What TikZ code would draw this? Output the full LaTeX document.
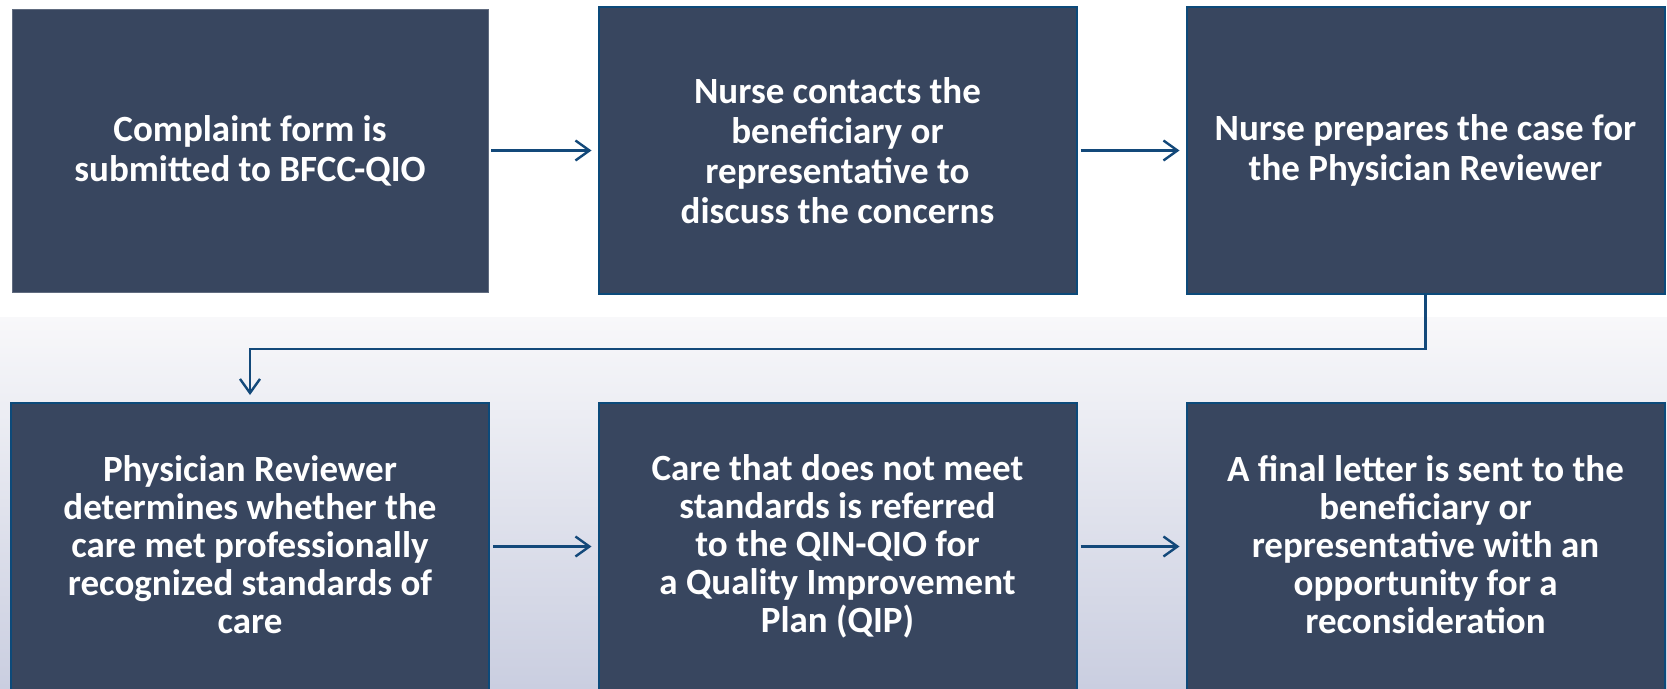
\documentclass[tikz,border=0pt]{standalone}
\usepackage{fontspec}
\setmainfont{Carlito}
\usetikzlibrary{arrows.meta}
\definecolor{boxfill}{HTML}{38465F}
\definecolor{boxline}{HTML}{0C4A7A}
\definecolor{arrowcol}{HTML}{13497A}
\definecolor{bgtop}{HTML}{F8F8FA}
\definecolor{bgbot}{HTML}{CACEE0}
\tikzset{
  stepbox/.style={rectangle, fill=boxfill, draw=boxline, line width=2pt,
    minimum width=478pt, minimum height=287pt, inner sep=0pt,
    text=white, align=center,
    font=\fontsize{37}{40}\selectfont\bfseries},
  lowbox/.style={stepbox, font=\fontsize{37}{38}\selectfont\bfseries},
  flow/.style={draw=arrowcol, line width=2.4pt,
    -{Straight Barb[length=14pt,width=20pt,line width=2.4pt]}}
}
\begin{document}
\begin{tikzpicture}[x=1pt,y=-1pt]
\useasboundingbox (0,0) rectangle (1667,688);
\fill[white] (0,0) rectangle (1667,317);
\shade[top color=bgtop, bottom color=bgbot] (0,317) rectangle (1667,688);
\node[stepbox, draw=boxfill!80!white, line width=0.6pt, minimum width=476pt, minimum height=283pt] (b1) at (250,150.5) {Complaint form is\\submitted to BFCC-QIO};
\node[stepbox] (b2) at (837.5,150.5) {Nurse contacts the\\beneficiary or\\representative to\\discuss the concerns};
\node[stepbox] (b3) at (1425.5,150.5) {Nurse prepares the case for\\the Physician Reviewer};
\node[lowbox] (b4) at (250,546.5) {Physician Reviewer\\determines whether the\\care met professionally\\recognized standards of\\care\rule[-4pt]{0pt}{0pt}};
\node[lowbox] (b5) at (837.5,546.5) {Care that does not meet\\standards is referred\\to the QIN-QIO for\\a Quality Improvement\\Plan (QIP)\rule[-4pt]{0pt}{0pt}};
\node[lowbox] (b6) at (1425.5,546.5) {A final letter is sent to the\\beneficiary or\\representative with an\\opportunity for a\\reconsideration\rule[-4pt]{0pt}{0pt}};
\draw[flow, shorten <=3pt, shorten >=6pt] (b1.east) -- (b2.west);
\draw[flow, shorten <=3pt, shorten >=6pt] (b2.east) -- (b3.west);
\draw[flow, shorten <=3pt, shorten >=6pt] (b4.east) -- (b5.west);
\draw[flow, shorten <=3pt, shorten >=6pt] (b5.east) -- (b6.west);
\draw[flow, shorten >=7pt] (b3.south) -- (1425.5,349) -| (b4.north);
\end{tikzpicture}
\end{document}
